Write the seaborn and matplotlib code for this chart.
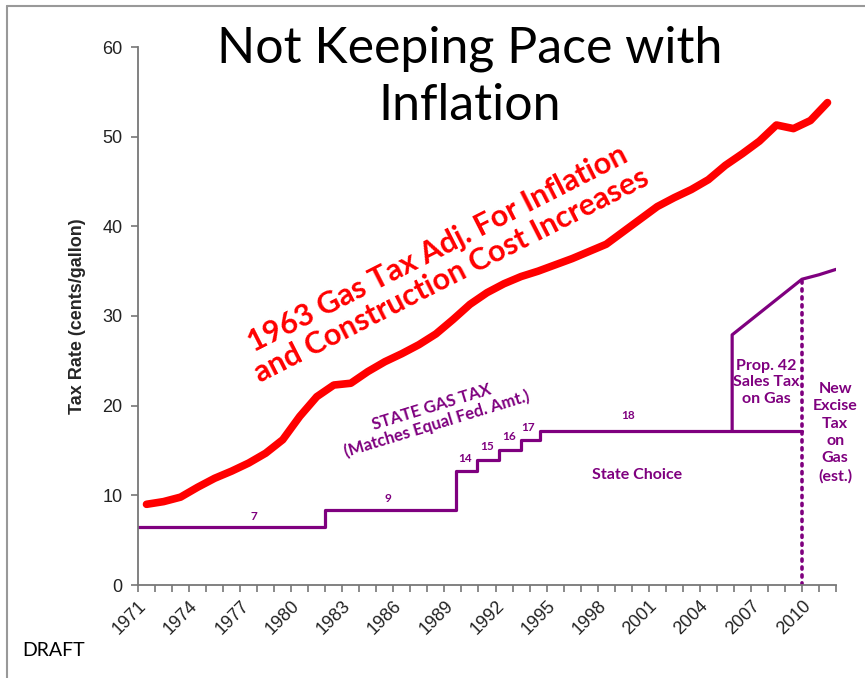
import numpy as np
import pandas as pd
import seaborn as sns
import matplotlib.pyplot as plt
from matplotlib.lines import Line2D

# 1963 gas tax adjusted for inflation + construction costs (cents/gallon)
infl_years = list(range(1971, 2012))
infl_rate = [9.0, 9.3, 9.8, 10.9, 11.9, 12.7, 13.6, 14.7, 16.2, 18.8,
             21.0, 22.3, 22.5, 23.8, 24.9, 25.8, 26.8, 28.0, 29.6, 31.3,
             32.6, 33.6, 34.4, 35.0, 35.7, 36.4, 37.2, 38.0, 39.4, 40.8,
             42.2, 43.2, 44.1, 45.2, 46.8, 48.1, 49.5, 51.3, 50.9, 51.8,
             53.8]

# state gas tax steps (year the rate took effect)
state_years = [1971, 1982, 1989.7, 1990.9, 1992.2, 1993.5, 1994.6, 2010]
state_rate = [6.5, 8.4, 12.7, 13.9, 15.1, 16.2, 17.2, 17.2]
state_labels = ['7', '9', '14', '15', '16', '17', '18']

# prop 42 sales tax on gas + new excise tax estimate
sales_years = [2005.9, 2005.9, 2010, 2011, 2012]
sales_rate = [17.2, 27.9, 34.1, 34.6, 35.2]

purple = '#7f007f'
red = '#ff0000'

sns.set_style('ticks')
plt.rcParams['font.family'] = ['Liberation Sans', 'DejaVu Sans']
calibri_ish = ['Lato', 'DejaVu Sans']

fig = plt.figure(figsize=(8.65, 6.78), dpi=100)
ax = fig.add_axes([138 / 865, 93 / 678, 698 / 865, 538 / 678])

infl_df = pd.DataFrame({'year': [y + 0.5 for y in infl_years], 'rate': infl_rate})
sns.lineplot(data=infl_df, x='year', y='rate', color=red, linewidth=5.5, ax=ax,
             solid_joinstyle='round', solid_capstyle='round')

state_df = pd.DataFrame({'year': state_years, 'rate': state_rate})
sns.lineplot(data=state_df, x='year', y='rate', color=purple, linewidth=2.3,
             drawstyle='steps-post', estimator=None, ax=ax)

sales_df = pd.DataFrame({'year': sales_years, 'rate': sales_rate})
sns.lineplot(data=sales_df, x='year', y='rate', color=purple, linewidth=2.3,
             sort=False, estimator=None, ax=ax)

# dotted divider at 2010
ax.plot([sales_years[2], sales_years[2]], [0, sales_rate[2]], color=purple,
        linestyle=(0, (0.6, 1.6)), linewidth=2.6, dash_capstyle='round')

ax.set_xlim(1971, 2012)
ax.set_ylim(0, 60)
ax.set_xticks(range(1971, 2013))
ax.set_xticklabels([str(y) if (y - 1971) % 3 == 0 and y <= 2010 else ''
                    for y in range(1971, 2013)],
                   rotation=45, ha='right', rotation_mode='anchor', fontsize=13)
ax.set_yticks(range(0, 61, 10))
ax.tick_params(axis='y', labelsize=13, length=5, width=1.2, color='#777777', pad=6)
ax.tick_params(axis='x', length=5, width=1.2, color='#777777', pad=4)
for lab in ax.get_xticklabels() + ax.get_yticklabels():
    lab.set_color('#222222')
sns.despine(ax=ax)
for s in ['left', 'bottom']:
    ax.spines[s].set_color('#777777')
    ax.spines[s].set_linewidth(1.3)

ax.set_xlabel('')
ax.set_ylabel('Tax Rate (cents/gallon)', fontsize=13, fontweight='bold', labelpad=12)

# step labels
label_pos = [(1977.8, 7.6), (1985.7, 9.6), (1990.2, 14.1), (1991.5, 15.5),
             (1992.8, 16.6), (1993.9, 17.6), (1999.8, 18.9)]
for txt, (x, y) in zip(state_labels, label_pos):
    ax.text(x, y, txt, color=purple, fontsize=8.5, fontweight='bold',
            ha='center', va='center', family=calibri_ish)

ax.text(2000.3, 12.3, 'State Choice', color=purple, fontsize=11.5,
        ha='center', va='center', family=calibri_ish, fontweight='bold')
ax.text(1988.4, 18.9, 'STATE GAS TAX\n(Matches Equal Fed. Amt.)', color=purple,
        fontsize=12, ha='center', va='center', rotation=17, rotation_mode='anchor',
        linespacing=1.05, family=calibri_ish, fontweight='bold')
ax.text(1989.0, 36.0, '1963 Gas Tax Adj. For Inflation\nand Construction Cost Increases',
        color=red, fontsize=22, fontweight='bold', ha='center', va='center',
        rotation=27, rotation_mode='anchor', linespacing=1.1,
        family=calibri_ish)
ax.text(2007.9, 22.6, 'Prop. 42\nSales Tax\non Gas', color=purple, fontsize=11.5,
        fontweight='bold', ha='center', va='center', linespacing=1.25,
        family=calibri_ish)
ax.text(2011.95, 17.0, 'New\nExcise\nTax\non\nGas\n(est.)', color=purple, fontsize=11.5,
        fontweight='bold', ha='center', va='center', linespacing=1.3,
        family=calibri_ish)

fig.text(470 / 865, 1 - 77 / 678, 'Not Keeping Pace with\nInflation', fontsize=36,
         ha='center', va='center', linespacing=1.3, color='black', family=calibri_ish)
fig.text(22 / 865, 1 - 650 / 678, 'DRAFT', fontsize=14, ha='left', va='center',
         color='black', family=calibri_ish)

# slide frame (top and left edges only)
fig.add_artist(Line2D([7 / 865, 7 / 865], [0, 1 - 6 / 678], color='#999999', lw=1.5))
fig.add_artist(Line2D([7 / 865, 1], [1 - 6 / 678, 1 - 6 / 678], color='#999999', lw=1.5))

fig.savefig('out.png', dpi=100)
